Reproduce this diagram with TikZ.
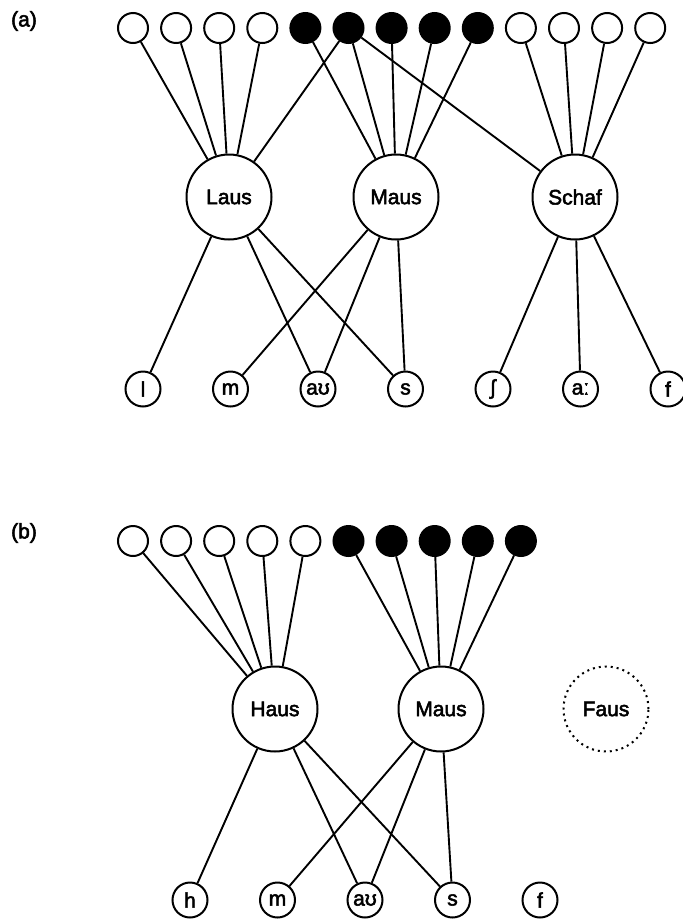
\documentclass[tikz,border=0pt]{standalone}
\usepackage{fontspec}
\setmainfont{Liberation Sans}[FakeBold=2.5]
\begin{document}
\begin{tikzpicture}[x=1pt,y=-1pt,
  every node/.style={font=\fontsize{21}{25}\selectfont},
  unit/.style={circle,draw,line width=2pt,minimum size=30pt,inner sep=0pt},
  oncell/.style={unit,fill=black},
  offcell/.style={unit,fill=white},
  word/.style={circle,draw,line width=2pt,minimum size=85pt,inner sep=0pt},
  phon/.style={circle,draw,line width=2pt,minimum size=35pt,inner sep=0pt},
  ghost/.style={circle,draw,line width=2pt,minimum size=85pt,inner sep=0pt,dash pattern=on 2pt off 4pt},
  link/.style={line width=1.9pt}]
\useasboundingbox (0,0) rectangle (683,919);
% ---------- (a) ----------
\node (la) at (24,21) {(a)};
\foreach \i/\s in {1/offcell,2/offcell,3/offcell,4/offcell,5/oncell,6/oncell,7/oncell,8/oncell,9/oncell,10/offcell,11/offcell,12/offcell,13/offcell}
  \node[\s] (at\i) at ({133+43.1*(\i-1)},28) {};
\node[word] (laus) at (229,197) {Laus};
\node[word] (maus) at (396,197) {Maus};
\node[word] (schaf) at (575,197) {Schaf};
\node[phon] (pl) at (143,389) {l};
\node[phon] (pm) at (230.5,389) {m};
\node[phon] (pau) at (318,389) {aʊ};
\node[phon] (ps) at (405.5,389) {s};
\node[phon] (psh) at (493,389) {ʃ};
\node[phon] (paa) at (580.5,389) {aː};
\node[phon] (pf) at (668,389) {f};
\foreach \i in {1,2,3,4,6} \draw[link] (at\i) -- (laus);
\foreach \i in {5,6,7,8,9} \draw[link] (at\i) -- (maus);
\foreach \i in {6,10,11,12,13} \draw[link] (at\i) -- (schaf);
\foreach \p in {pl,pau,ps} \draw[link] (laus) -- (\p);
\foreach \p in {pm,pau,ps} \draw[link] (maus) -- (\p);
\foreach \p in {psh,paa,pf} \draw[link] (schaf) -- (\p);
% ---------- (b) ----------
\node (lb) at (24,533) {(b)};
\foreach \i/\s in {1/offcell,2/offcell,3/offcell,4/offcell,5/offcell,6/oncell,7/oncell,8/oncell,9/oncell,10/oncell}
  \node[\s] (bt\i) at ({133+43.1*(\i-1)},541) {};
\node[word] (haus) at (275,709) {Haus};
\node[word] (bmaus) at (441,709) {Maus};
\node[ghost] (faus) at (606,709) {Faus};
\node[phon] (qh) at (190,900) {h};
\node[phon] (qm) at (277.5,900) {m};
\node[phon] (qau) at (365,900) {aʊ};
\node[phon] (qs) at (452.5,900) {s};
\node[phon] (qf) at (540,900) {f};
\foreach \i in {1,2,3,4,5} \draw[link] (bt\i) -- (haus);
\foreach \i in {6,7,8,9,10} \draw[link] (bt\i) -- (bmaus);
\foreach \p in {qh,qau,qs} \draw[link] (haus) -- (\p);
\foreach \p in {qm,qau,qs} \draw[link] (bmaus) -- (\p);
\end{tikzpicture}
\end{document}
